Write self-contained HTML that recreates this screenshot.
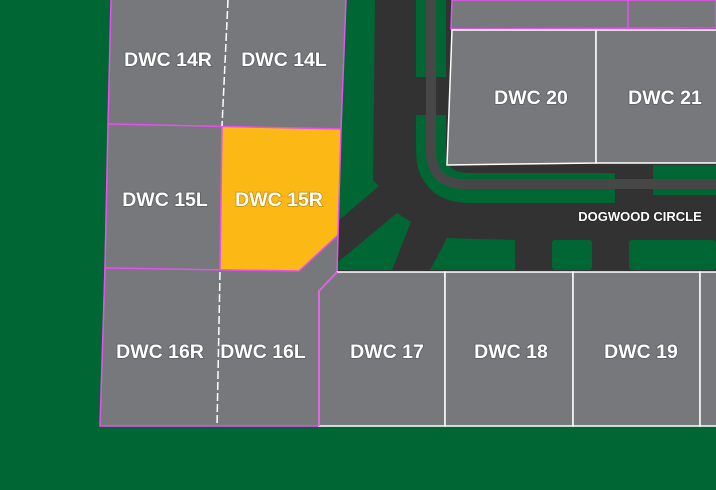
<!DOCTYPE html>
<html><head><style>html,body{margin:0;padding:0;background:#006633;}svg{display:block}</style></head><body>
<svg width="716" height="490" viewBox="0 0 716 490" xmlns="http://www.w3.org/2000/svg">
<rect width="716" height="490" fill="#006633"/>
<rect x="338" y="0" width="378" height="272" fill="#323232"/>
<polygon points="344,0 375,0 373,180 379,186 337,222 340,0" fill="#006633"/>
<polygon points="338,262 397,213 411,222 392,270 338,270" fill="#006633"/>
<polygon points="447,238 515,240 515,270 430,270" fill="#006633"/>
<rect x="552" y="240" width="40" height="30" rx="3" fill="#006633"/>
<rect x="629" y="240" width="87" height="30" rx="3" fill="#006633"/>
<path d="M431,0 L431,77" stroke="#006633" stroke-width="30" fill="none"/>
<path d="M431,115 L431,150 Q431,188 470,188 L615,188" stroke="#006633" stroke-width="30" fill="none"/>
<rect x="653" y="165" width="63" height="30" fill="#006633"/>
<rect x="616" y="165" width="37" height="16" fill="#323232"/>
<path d="M431,0 L431,150 Q431,184 465,184 L716,184" stroke="#474747" stroke-width="10" fill="none"/>
<polygon points="452,0 716,0 716,28 451,29" fill="#77787b" stroke="#e84ff0" stroke-width="1.5"/>
<line x1="628" y1="0" x2="628" y2="28" stroke="#e84ff0" stroke-width="1.5"/>
<polygon points="452,30 596,30 596,163 447,165" fill="#77787b" stroke="#fff" stroke-width="1.5"/>
<polygon points="596,30 717,30 717,163 596,163" fill="#77787b" stroke="#fff" stroke-width="1.5"/>
<polygon points="111,0 346,0 341,129 337,272 319,291 319,426 100,426 108,124" fill="#77787b"/>
<polygon points="222,127 341,129 338,235 299,271 220,270" fill="#fcb814"/>
<g stroke="#e84ff0" stroke-width="1.5" fill="none">
<polyline points="111,0 108,124 105,268 100,426 319,426 319,291 337,272 341,129 346,0"/>
<line x1="108" y1="124" x2="341" y2="129"/>
<line x1="105" y1="268" x2="299" y2="271"/>
<polyline points="222,127 220,270"/>
<polyline points="299,271 338,235"/>
</g>
<g stroke="#fff" stroke-width="1.5" stroke-dasharray="8,3" fill="none">
<line x1="228" y1="0" x2="222" y2="126"/>
<line x1="220" y1="272" x2="217" y2="426"/>
</g>
<g fill="#77787b" stroke="#fff" stroke-width="1.5">
<polygon points="337,272 445,272 445,426 319,426 319,291"/>
<rect x="445" y="272" width="128" height="154"/>
<rect x="573" y="272" width="127" height="154"/>
<rect x="700" y="272" width="20" height="154"/>
</g>
<polyline points="337,272 319,291 319,426" stroke="#e84ff0" stroke-width="1.5" fill="none"/>
<g font-family="Liberation Sans, sans-serif" font-weight="bold" font-size="19.5" fill="#fff" text-anchor="middle" style="paint-order:stroke" stroke="rgba(0,0,0,0.25)" stroke-width="1.5">
<text x="168" y="66">DWC 14R</text>
<text x="284" y="66">DWC 14L</text>
<text x="165" y="206">DWC 15L</text>
<text x="279" y="206">DWC 15R</text>
<text x="160" y="358">DWC 16R</text>
<text x="263" y="358">DWC 16L</text>
<text x="387" y="358">DWC 17</text>
<text x="511" y="358">DWC 18</text>
<text x="641" y="358">DWC 19</text>
<text x="531" y="104">DWC 20</text>
<text x="665" y="104">DWC 21</text>
<text x="640" y="221" font-size="13">DOGWOOD CIRCLE</text>
</g>
</svg>
</body></html>
